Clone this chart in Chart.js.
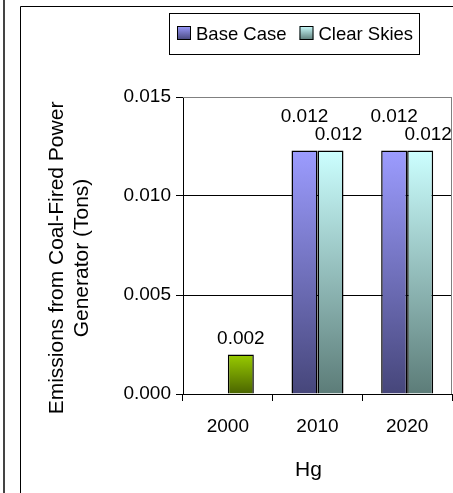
<!DOCTYPE html>
<html>
<head>
<meta charset="utf-8">
<script src="https://cdn.jsdelivr.net/npm/chart.js@4.4.1/dist/chart.umd.min.js"></script>
<style>
  html, body { margin: 0; padding: 0; background: #ffffff; }
  canvas { display: block; }
</style>
</head>
<body>
<canvas id="hg-chart" width="453" height="493"></canvas>
<script>
  const years = ['2000', '2010', '2020'];
  const baseCase = [null, 0.0123, 0.0123];
  const clearSkies = [0.002, 0.0123, 0.0123];
  const yTicks = [0, 0.005, 0.010, 0.015];
  const seriesNames = ['Base Case', 'Clear Skies'];
  const yTitle = ['Emissions from Coal-Fired Power', 'Generator (Tons)'];
  const xTitle = 'Hg';

  const FONT = '"Liberation Sans", Arial, sans-serif';

  const baseColors = ['#9c9cff', '#46467a'];
  const clearColors = ['#ccffff', '#5c7c78'];
  const greenColors = ['#99cc00', '#4a6400'];

  const vGradient = (ctx, top, bottom, stops) => {
    const g = ctx.createLinearGradient(0, top, 0, bottom);
    g.addColorStop(0, stops[0]);
    g.addColorStop(1, stops[1]);
    return g;
  };

  const barFill = (stopsFor) => (context) => {
    const chart = context.chart;
    const y = chart.scales.y;
    if (!y || context.raw == null) return stopsFor(context)[0];
    const top = y.getPixelForValue(context.raw);
    const bottom = y.getPixelForValue(0);
    if (!isFinite(top) || !isFinite(bottom) || top === bottom) return stopsFor(context)[0];
    return vGradient(chart.ctx, top, bottom, stopsFor(context));
  };

  const extras = {
    id: 'extras',
    beforeDraw(chart) {
      const { ctx } = chart;
      ctx.save();
      ctx.fillStyle = '#ffffff';
      ctx.fillRect(0, 0, chart.width, chart.height);
      // outer frames
      ctx.strokeStyle = '#444444';
      ctx.lineWidth = 2;
      ctx.beginPath();
      ctx.moveTo(4, 0);
      ctx.lineTo(4, chart.height);
      ctx.stroke();
      ctx.strokeStyle = '#000000';
      ctx.lineWidth = 1;
      ctx.beginPath();
      ctx.moveTo(20.5, chart.height);
      ctx.lineTo(20.5, 6.5);
      ctx.lineTo(chart.width, 6.5);
      ctx.stroke();
      ctx.restore();
    },
    beforeDatasetsDraw(chart) {
      const { ctx, chartArea } = chart;
      ctx.save();
      ctx.strokeStyle = '#808080';
      ctx.lineWidth = 1;
      ctx.beginPath();
      ctx.moveTo(chartArea.left, Math.round(chartArea.top) + 0.5);
      ctx.lineTo(Math.round(chartArea.right) - 0.5, Math.round(chartArea.top) + 0.5);
      ctx.lineTo(Math.round(chartArea.right) - 0.5, chartArea.bottom);
      ctx.stroke();
      ctx.restore();
    },
    afterDatasetsDraw(chart) {
      const { ctx } = chart;
      ctx.save();
      ctx.font = `19px ${FONT}`;
      ctx.fillStyle = '#000000';
      ctx.textAlign = 'center';
      ctx.textBaseline = 'middle';
      chart.data.datasets.forEach((ds, di) => {
        const meta = chart.getDatasetMeta(di);
        meta.data.forEach((bar, i) => {
          const v = ds.data[i];
          if (v == null) return;
          let dx = 0, dy = -16;
          if (di === 0) { dy = -34; }
          else if (baseCase[i] != null) { dx = 8; }
          ctx.fillText(v.toFixed(3), bar.x + dx, bar.y + dy);
        });
      });

      // axis titles
      ctx.font = `21px ${FONT}`;
      ctx.save();
      ctx.translate(57, 258);
      ctx.rotate(-Math.PI / 2);
      yTitle.forEach((line, k) => ctx.fillText(line, 0, k * 25));
      ctx.restore();
      ctx.textBaseline = 'alphabetic';
      ctx.fillText(xTitle, 308.5, 476);

      // legend
      ctx.font = `18.5px ${FONT}`;
      ctx.strokeStyle = '#000000';
      ctx.lineWidth = 1;
      ctx.strokeRect(169.5, 13.5, 250, 41);
      ctx.textAlign = 'left';
      let x = 177;
      [baseColors, clearColors].forEach((stops, k) => {
        ctx.fillStyle = vGradient(ctx, 26, 40, stops);
        ctx.fillRect(x, 26, 14, 14);
        ctx.strokeRect(x + 0.5, 26.5, 13, 13);
        ctx.fillStyle = '#000000';
        ctx.fillText(seriesNames[k], x + 19, 40);
        x += 19 + ctx.measureText(seriesNames[k]).width + 13;
      });
      ctx.restore();
    }
  };

  new Chart(document.getElementById('hg-chart'), {
    type: 'bar',
    data: {
      labels: years,
      datasets: [
        {
          label: seriesNames[0],
          data: baseCase,
          backgroundColor: barFill(() => baseColors),
          borderColor: '#000000',
          borderWidth: 1.5,
          categoryPercentage: 0.58,
          barPercentage: 1,
        },
        {
          label: seriesNames[1],
          data: clearSkies,
          backgroundColor: barFill((c) => (c.dataIndex === 0 ? greenColors : clearColors)),
          borderColor: '#000000',
          borderWidth: 1.5,
          categoryPercentage: 0.58,
          barPercentage: 1,
        },
      ],
    },
    options: {
      responsive: false,
      animation: false,
      layout: {
        padding: { left: 20, top: 97, right: 1, bottom: 0 },
      },
      scales: {
        y: {
          min: 0,
          max: 0.015,
          afterFit: (scale) => { scale.width = 163; },
          afterBuildTicks: (scale) => { scale.ticks = yTicks.map((v) => ({ value: v })); },
          ticks: {
            color: '#000000',
            padding: 5,
            font: { family: FONT, size: 19 },
            callback: (v) => Number(v).toFixed(3),
          },
          grid: {
            color: (c) => (c.tick && c.tick.value === 0.015 ? '#808080' : '#000000'),
            tickColor: '#000000',
            tickLength: 7,
            lineWidth: 1,
          },
          border: { display: true, color: '#000000' },
        },
        x: {
          afterFit: (scale) => { scale.height = 99; },
          ticks: {
            color: '#000000',
            padding: 14,
            font: { family: FONT, size: 19 },
          },
          grid: {
            offset: true,
            drawOnChartArea: false,
            tickColor: '#000000',
            tickLength: 7,
          },
          border: { display: true, color: '#000000' },
        },
      },
      plugins: {
        legend: { display: false },
        tooltip: { enabled: false },
      },
    },
    plugins: [extras],
  });
</script>
</body>
</html>
